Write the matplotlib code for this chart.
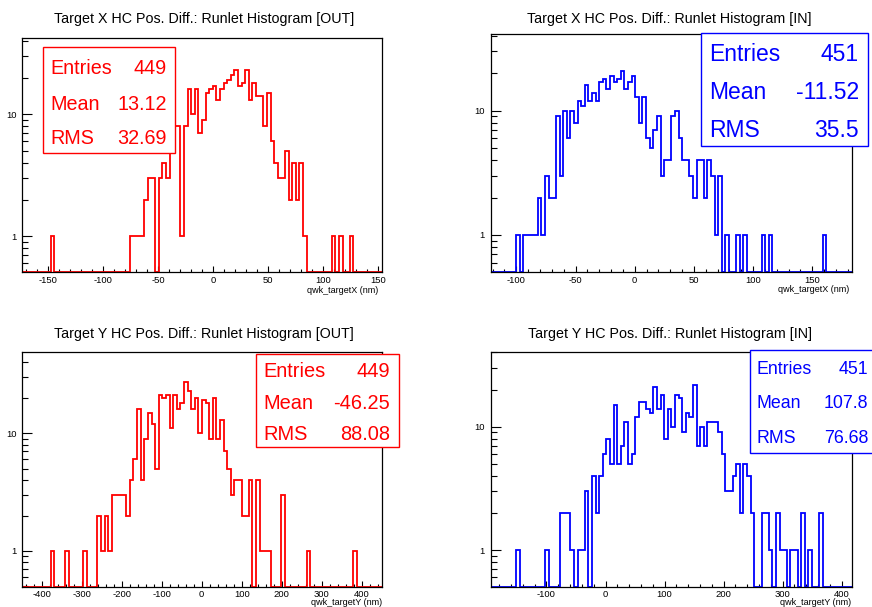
import numpy as np
import matplotlib
matplotlib.use("Agg")
import matplotlib.pyplot as plt
from matplotlib.patches import Rectangle
from matplotlib.ticker import MultipleLocator, LogLocator, NullFormatter, FixedLocator, FixedFormatter

plt.rcParams['font.family'] = ['Liberation Sans', 'DejaVu Sans']
plt.rcParams['axes.unicode_minus'] = False

# ---- histogram contents (100 bins each) ----
counts_x_out = [
    0, 0, 0, 0, 0, 0, 0, 0, 1, 0, 0, 0, 0, 0, 0, 0, 0, 0, 0, 0,
    0, 0, 0, 0, 0, 0, 0, 0, 0, 0, 1, 1, 1, 1, 2, 3, 3, 0, 3, 4,
    3, 8, 8, 8, 1, 8, 16, 10, 16, 7, 9, 15, 16, 17, 13, 16, 18, 19, 21, 23,
    17, 18, 23, 13, 18, 14, 14, 8, 15, 6, 4, 3, 3, 5, 2, 4, 2, 4, 1, 0,
    0, 0, 0, 0, 0, 0, 1, 0, 1, 0, 0, 1, 0, 0, 0, 0, 0, 0, 0, 0,
]
counts_x_in = [
    0, 0, 0, 0, 0, 0, 0, 1, 0, 1, 1, 1, 1, 2, 1, 3, 2, 2, 9, 3,
    10, 6, 10, 8, 12, 11, 16, 12, 14, 12, 17, 18, 15, 19, 17, 18, 21, 15, 17, 19,
    13, 8, 13, 6, 5, 7, 9, 3, 4, 4, 9, 10, 6, 4, 4, 3, 2, 4, 4, 2,
    4, 3, 1, 3, 0, 1, 0, 0, 1, 0, 1, 0, 0, 0, 0, 1, 0, 1, 0, 0,
    0, 0, 0, 0, 0, 0, 0, 0, 0, 0, 0, 0, 1, 0, 0, 0, 0, 0, 0, 0,
]
counts_y_out = [
    0, 0, 0, 0, 0, 0, 0, 0, 1, 0, 0, 0, 1, 0, 0, 0, 0, 1, 0, 0,
    0, 2, 1, 2, 1, 3, 3, 3, 3, 2, 4, 6, 16, 4, 9, 15, 12, 5, 21, 20,
    21, 11, 21, 16, 18, 27, 23, 16, 20, 10, 19, 18, 9, 20, 9, 13, 7, 5, 3, 4,
    4, 2, 2, 4, 0, 4, 1, 1, 1, 0, 0, 0, 3, 0, 0, 0, 0, 0, 0, 1,
    0, 0, 0, 0, 0, 0, 0, 0, 0, 0, 0, 0, 1, 0, 0, 0, 0, 0, 0, 0,
]
counts_y_in = [
    0, 0, 0, 0, 0, 0, 0, 1, 0, 0, 0, 0, 0, 0, 0, 1, 0, 0, 0, 2,
    2, 2, 1, 0, 1, 1, 3, 0, 4, 2, 4, 6, 8, 5, 15, 5, 7, 11, 5, 6,
    12, 16, 16, 14, 13, 21, 14, 18, 8, 14, 10, 18, 17, 9, 13, 12, 22, 7, 10, 7,
    11, 11, 11, 9, 6, 3, 3, 4, 5, 2, 5, 4, 2, 0, 0, 2, 2, 1, 0, 2,
    1, 1, 0, 1, 1, 0, 2, 0, 1, 0, 0, 2, 0, 0, 0, 0, 0, 0, 0, 0,
]

# histogram axis ranges
range_x_out = (-174.2, 153.6)
range_x_in = (-121.4, 183.3)
range_y_out = (-450.0, 451.5)
range_y_in = (-194.0, 417.0)

titles = [
    "Target X HC Pos. Diff.: Runlet Histogram [OUT]",
    "Target X HC Pos. Diff.: Runlet Histogram [IN]",
    "Target Y HC Pos. Diff.: Runlet Histogram [OUT]",
    "Target Y HC Pos. Diff.: Runlet Histogram [IN]",
]
xlabels = ["qwk_targetX (nm)", "qwk_targetX (nm)", "qwk_targetY (nm)", "qwk_targetY (nm)"]
stat_names = ["Entries", "Mean", "RMS"]
stat_values = [
    ["449", "13.12", "32.69"],
    ["451", "-11.52", "35.5"],
    ["449", "-46.25", "88.08"],
    ["451", "107.8", "76.68"],
]

# ---- layout (canvas pixels) ----
W, H = 872, 607
fig = plt.figure(figsize=(W / 100, H / 100), dpi=100)
fig.patch.set_facecolor("white")


def fx(x):
    return x / W


def fy(y):
    return 1 - y / H


pads = [
    dict(counts=counts_x_out, rng=range_x_out, ylim=(0.507, 42.4), color="#ff0000",
         frame=(21.7, 37.7, 382.3, 272.3), major=50, minor=10,
         title_xy=(204, 22.7), xlabel_xy=(378, 292.7),
         box=(43.3, 47.3, 175.0, 153.3), txt_lr=(50.0, 166.7),
         txt_y=(74.0, 110.0, 144.0), fs=14.2, ypad=3.4),
    dict(counts=counts_x_in, rng=range_x_in, ylim=(0.501, 41.2), color="#0000ff",
         frame=(491.0, 34.3, 851.7, 272.3), major=50, minor=10,
         title_xy=(669, 22.7), xlabel_xy=(849, 292.3),
         box=(701.0, 33.3, 867.7, 146.0), txt_lr=(709.3, 858.7),
         txt_y=(60.7, 99.3, 136.7), fs=16.5, ypad=4.6),
    dict(counts=counts_y_out, rng=range_y_out, ylim=(0.497, 49.3), color="#ff0000",
         frame=(21.7, 351.7, 382.3, 586.7), major=100, minor=20,
         title_xy=(204, 338.3), xlabel_xy=(381.7, 605.0),
         box=(255.7, 354.0, 399.0, 447.3), txt_lr=(263.3, 390.0),
         txt_y=(377.3, 409.3, 440.0), fs=14.4, ypad=3.4),
    dict(counts=counts_y_in, rng=range_y_in, ylim=(0.504, 40.6), color="#0000ff",
         frame=(491.0, 351.7, 851.7, 586.7), major=100, minor=20,
         title_xy=(669.5, 338.3), xlabel_xy=(851.0, 605.0),
         box=(750.0, 350.0, 890.0, 452.7), txt_lr=(756.0, 868.3),
         txt_y=(374.0, 408.3, 442.7), fs=12.8, ypad=4.6),
]

for i, p in enumerate(pads):
    l, t, r, b = p["frame"]
    ax = fig.add_axes([fx(l), fy(b), (r - l) / W, (b - t) / H])
    counts = np.asarray(p["counts"], dtype=float)
    lo, hi = p["rng"]
    edges = np.linspace(lo, hi, len(counts) + 1)
    ylo, yhi = p["ylim"]
    # empty bins sit on the lower frame edge, as in a log-scale histogram outline
    vals = np.where(counts > 0, counts, ylo)
    ax.stairs(vals, edges, baseline=None, color=p["color"], lw=1.3, zorder=2)
    ax.set_yscale("log")
    ax.set_xlim(lo, hi)
    ax.set_ylim(ylo, yhi)

    for s in ax.spines.values():
        s.set_linewidth(0.9)
        s.set_color("black")
        s.set_zorder(2.5)

    ax.xaxis.set_major_locator(MultipleLocator(p["major"]))
    ax.xaxis.set_minor_locator(MultipleLocator(p["minor"]))
    ax.yaxis.set_major_locator(FixedLocator([1, 10]))
    ax.yaxis.set_major_formatter(FixedFormatter(["1", "10"]))
    ax.yaxis.set_minor_locator(LogLocator(base=10, subs=np.arange(2, 10), numticks=20))
    ax.yaxis.set_minor_formatter(NullFormatter())
    ax.tick_params(axis="x", which="major", direction="in", length=4.3, width=0.8,
                   labelsize=6.8, pad=2.5, top=False, colors="black")
    ax.tick_params(axis="x", which="minor", direction="in", length=2.3, width=0.8, top=False)
    ax.tick_params(axis="y", which="major", direction="in", length=7.5, width=0.8,
                   labelsize=6.8, pad=p["ypad"], right=False)
    ax.tick_params(axis="y", which="minor", direction="in", length=4.0, width=0.8, right=False)

    # title and axis label
    tx, ty = p["title_xy"]
    fig.text(fx(tx), fy(ty), titles[i], ha="center", va="baseline", fontsize=10.3, color="black")
    lx, ly = p["xlabel_xy"]
    fig.text(fx(lx), fy(ly), xlabels[i], ha="right", va="baseline", fontsize=6.5, color="black")

    # statistics box
    bl, bt, br, bb = p["box"]
    fig.add_artist(Rectangle((fx(bl), fy(bb)), (br - bl) / W, (bb - bt) / H,
                             transform=fig.transFigure, facecolor="white",
                             edgecolor=p["color"], lw=1.0, zorder=5))
    xl, xr = p["txt_lr"]
    for name, val, yy in zip(stat_names, stat_values[i], p["txt_y"]):
        fig.text(fx(xl), fy(yy), name, ha="left", va="baseline", fontsize=p["fs"],
                 color=p["color"], zorder=6)
        fig.text(fx(xr), fy(yy), val, ha="right", va="baseline", fontsize=p["fs"],
                 color=p["color"], zorder=6)

fig.savefig("out.png", dpi=100, facecolor="white")
